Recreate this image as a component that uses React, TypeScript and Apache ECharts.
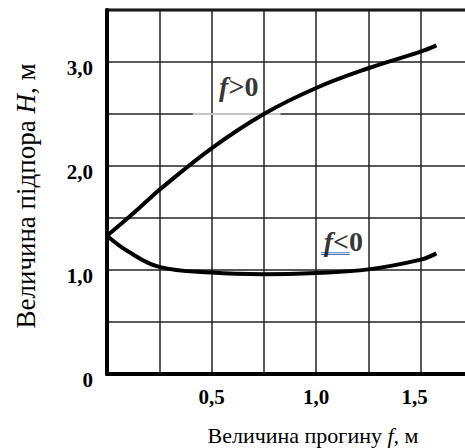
import React, { useEffect, useRef } from "react";
import * as echarts from "echarts";

const upperF = [0, 0.1, 0.2, 0.25, 0.5, 0.75, 1.0, 1.25, 1.5, 1.575];
const upperH = [1.33, 1.5, 1.68, 1.77, 2.17, 2.5, 2.75, 2.94, 3.1, 3.16];
const lowerF = [0, 0.1, 0.25, 0.5, 0.75, 1.0, 1.25, 1.5, 1.575];
const lowerH = [1.33, 1.18, 1.03, 0.975, 0.96, 0.972, 1.006, 1.1, 1.16];
const xTickLabels: Record<string, string> = { "0.5": "0,5", "1": "1,0", "1.5": "1,5" };
const yTickLabels: Record<string, string> = { "0": "0", "1": "1,0", "2": "2,0", "3": "3,0" };
const curveLabels = [
  { name: "f>0", f: 0.63, h: 2.76, op: ">0" },
  { name: "f<0", f: 1.13, h: 1.27, op: "<0" },
];
const gapSegment = [[0.41, 2.5], [0.83, 2.5]];
const underline1 = [[1.022, 1.166], [1.161, 1.166]];
const underline2 = [[1.022, 1.149], [1.161, 1.149]];

const FONT = "Liberation Serif";

export default function App() {
  const ref = useRef<HTMLDivElement>(null);
  useEffect(() => {
    if (!ref.current) return;
    const chart = echarts.init(ref.current, undefined, { renderer: "svg" });
    const curve = (f: number[], h: number[]) => f.map((v, i) => [v, h[i]]);
    chart.setOption({
      animation: false,
      backgroundColor: "#fff",
      textStyle: { fontFamily: FONT },
      grid: {
        left: 107,
        top: 10,
        right: -8,
        bottom: 74,
        show: true,
        borderColor: "#000",
        borderWidth: 3,
        containLabel: false,
        outerBoundsMode: "none",
      },
      xAxis: {
        type: "value",
        min: 0,
        max: 1.75,
        interval: 0.25,
        axisLine: { show: true, lineStyle: { color: "#000", width: 4 } },
        axisTick: { show: false },
        splitLine: { show: true, lineStyle: { color: "#222", width: 1.5 } },
        axisLabel: {
          margin: 12,
          color: "#000",
          fontFamily: FONT,
          fontWeight: "bold",
          fontSize: 21,
          formatter: (v: number) => {
            const s = xTickLabels[String(v)];
            if (!s) return "";
            return v === 1.5 ? "{s|" + s + "}" : s;
          },
          rich: {
            s: {
              fontFamily: FONT,
              fontWeight: "bold",
              fontSize: 21,
              color: "#000",
              padding: [0, 12, 0, 0],
            },
          },
        },
        name: "Величина прогину {i|f}, м",
        nameLocation: "middle",
        nameGap: 50,
        nameTextStyle: {
          fontFamily: FONT,
          fontSize: 22,
          color: "#000",
          padding: [0, 0, 0, 46],
          rich: {
            i: { fontFamily: FONT, fontSize: 22, fontStyle: "italic", color: "#000" },
          },
        },
      },
      yAxis: {
        type: "value",
        min: 0,
        max: 3.5,
        interval: 0.5,
        axisLine: { show: true, lineStyle: { color: "#000", width: 4 } },
        axisTick: { show: false },
        splitLine: { show: true, lineStyle: { color: "#222", width: 1.5 } },
        axisLabel: {
          margin: 14,
          color: "#000",
          fontFamily: FONT,
          fontWeight: "bold",
          fontSize: 21,
          verticalAlign: "top",
          lineHeight: 12,
          formatter: (v: number) => yTickLabels[String(v)] || "",
        },
        name: "Величина підпора {i|H}, м",
        nameLocation: "middle",
        nameGap: 68,
        nameTextStyle: {
          fontFamily: FONT,
          fontSize: 27,
          color: "#000",
          padding: [0, 8, 0, 0],
          rich: {
            i: { fontFamily: FONT, fontSize: 27, fontStyle: "italic", color: "#000" },
          },
        },
      },
      series: [
        {
          type: "line",
          data: gapSegment,
          showSymbol: false,
          lineStyle: { color: "#c4c4c4", width: 2 },
          z: 3,
          silent: true,
        },
        {
          type: "line",
          data: curve(upperF, upperH),
          smooth: 0.4,
          showSymbol: false,
          lineStyle: { color: "#000", width: 4 },
          z: 5,
        },
        {
          type: "line",
          data: curve(lowerF, lowerH),
          smooth: 0.4,
          showSymbol: false,
          lineStyle: { color: "#000", width: 4 },
          z: 5,
        },
        {
          type: "line",
          data: underline1,
          showSymbol: false,
          lineStyle: { color: "#4a78c8", width: 1 },
          z: 6,
        },
        {
          type: "line",
          data: underline2,
          showSymbol: false,
          lineStyle: { color: "#4a78c8", width: 1 },
          z: 6,
        },
        {
          type: "scatter",
          symbolSize: 0,
          z: 7,
          data: curveLabels.map((c) => ({ name: c.name, value: [c.f, c.h] })),
          label: {
            show: true,
            position: "inside",
            formatter: (p: any) => "{f|f}{o|" + curveLabels[p.dataIndex].op + "}",
            rich: {
              f: {
                fontFamily: FONT,
                fontSize: 28,
                fontStyle: "italic",
                fontWeight: "bold",
                color: "#000",
              },
              o: {
                fontFamily: FONT,
                fontSize: 28,
                fontWeight: "bold",
                color: "#000",
              },
            },
          },
        },
      ],
    });
    return () => chart.dispose();
  }, []);
  return (
    <div
      ref={ref}
      style={{ position: "fixed", left: 0, top: 0, width: 465, height: 448, background: "#fff" }}
    />
  );
}
